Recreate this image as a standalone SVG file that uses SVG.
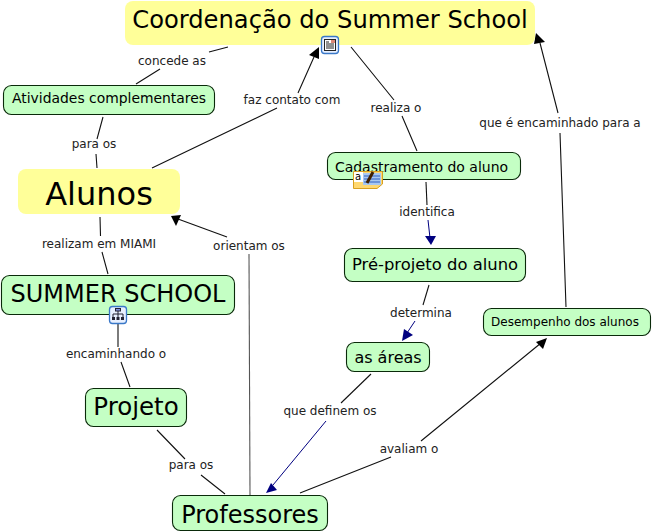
<svg xmlns="http://www.w3.org/2000/svg" width="652" height="532" viewBox="0 0 652 532">
<style>
text{font-family:"DejaVu Sans",Verdana,sans-serif;fill:#000;text-anchor:middle}
.lab{font-size:12px;fill:#222}
.g{fill:#c4ffc4;stroke:#0a2a0a;stroke-width:1.100}
.y{fill:#ffff99;stroke:none}
.l{stroke:#111;stroke-width:1.100;fill:none}
.b{stroke:#000080;stroke-width:1;fill:none}
.ah{fill:#000}
.ab{fill:#000080}
</style>
<rect width="652" height="532" fill="#fff"/>
<g id="connectors">
<path class="l" d="M228 47L209 52M160 69L136 84"/>
<path class="l" d="M152 168L277 108M298 93L314 57"/>
<path class="ah" d="M319 47L319 59L309 55Z"/>
<path class="l" d="M351 47L394 100M402 116L417 151"/>
<path class="l" d="M566 307L560 133M558 113L540 43"/>
<path class="ah" d="M536 33L545 42L534 44Z"/>
<path class="l" d="M103 117L97 139M96 154L97 168"/>
<path class="l" d="M100 217L100.500 236M102 252L108 274"/>
<path class="l" d="M250 495L249 254" style="stroke:#555"/>
<path class="l" d="M227 237L178 219"/>
<path class="ah" d="M171 216L181 215L176 226Z"/>
<path class="l" d="M118 323V347M121 362L130 387"/>
<path class="l" d="M157 430L185 459M201 475L225 494"/>
<path class="l" d="M371 374L341 403"/>
<path class="b" d="M326 421L273 485"/>
<path class="ab" d="M266 493L271 483L277 490Z"/>
<path class="l" d="M300 493L391 457M421 441L541 343"/>
<path class="ah" d="M547 338L543 349L536 342Z"/>
<path class="l" d="M426 182L427 205"/>
<path class="b" d="M428 220L430 238"/>
<path class="ab" d="M431 245L425 236L436 236Z"/>
<path class="l" d="M429 285L423 305"/>
<path class="b" d="M415 321L407 333"/>
<path class="ab" d="M402 341L404 329L413 335Z"/>
</g>
<g class="labels">
<text class="lab" x="172" y="65">concede as</text>
<text class="lab" x="292" y="104">faz contato com</text>
<text class="lab" x="396" y="112">realiza o</text>
<text class="lab" x="560" y="127">que é encaminhado para a</text>
<text class="lab" x="94" y="148">para os</text>
<text class="lab" x="99" y="248">realizam em MIAMI</text>
<text class="lab" x="249" y="250">orientam os</text>
<text class="lab" x="116" y="358">encaminhando o</text>
<text class="lab" x="191" y="469">para os</text>
<text class="lab" x="330" y="415">que definem os</text>
<text class="lab" x="409" y="453">avaliam o</text>
<text class="lab" x="427" y="216">identifica</text>
<text class="lab" x="421" y="317">determina</text>
</g>
<g id="node-coordenacao"><rect class="y" x="125" y="1" width="410" height="44" rx="8"/><text x="330" y="28" font-size="24.200">Coordenação do Summer School</text></g>
<g id="node-atividades"><rect class="g" x="3.500" y="85.500" width="211" height="29" rx="8"/><text x="109" y="103" font-size="13.900">Atividades complementares</text></g>
<g id="node-alunos"><rect class="y" x="18" y="169" width="162" height="45" rx="8"/><text x="99" y="205" font-size="32">Alunos</text></g>
<g id="node-summer"><rect class="g" x="1.500" y="275.500" width="233" height="39" rx="8"/><text x="118" y="302" font-size="24">SUMMER SCHOOL</text></g>
<g id="node-projeto"><rect class="g" x="85.500" y="388.500" width="101" height="38" rx="8"/><text x="136" y="415" font-size="24.500">Projeto</text></g>
<g id="node-professores"><rect class="g" x="172.500" y="495.500" width="155" height="35" rx="8"/><text x="250" y="523" font-size="24">Professores</text></g>
<g id="node-cadastramento"><rect class="g" x="327.500" y="152.500" width="193" height="27" rx="8"/><text x="421.500" y="172" font-size="14">Cadastramento do aluno</text></g>
<g id="node-preprojeto"><rect class="g" x="344.500" y="248.500" width="181" height="33" rx="8"/><text x="435" y="270" font-size="16.400">Pré-projeto do aluno</text></g>
<g id="node-areas"><rect class="g" x="346.500" y="342.500" width="83" height="29" rx="8"/><text x="388" y="363" font-size="16">as áreas</text></g>
<g id="node-desempenho"><rect class="g" x="483.500" y="308.500" width="167" height="27" rx="8"/><text x="565" y="326" font-size="12">Desempenho dos alunos</text></g>
<g id="icons">
<g id="icon-doc"><rect x="321.500" y="36.500" width="17" height="17" rx="3" fill="#e8f0ff" stroke="#3a78c8" stroke-width="1.300"/><rect x="324.500" y="39.500" width="11" height="11" fill="#fff" stroke="#222"/><path d="M326 42h3M326 44h8M326 46h8M326 48h8" stroke="#222" stroke-width="1"/><rect x="331" y="40" width="4" height="3" fill="#d87"/></g>
<g id="icon-note"><path d="M353.500 171.500H382.500V184L377 188.500H353.500Z" fill="#ffd870" stroke="#d8a020"/><rect x="354" y="172" width="9" height="10" fill="#fff"/><path d="M363 173h18v12h-18z" fill="#a8c8f0"/><path d="M364 176h16M364 179h16M364 182h16" stroke="#3060c0"/><path d="M367 183L373 172" stroke="#402000" stroke-width="3"/><text x="358" y="180" font-size="10">a</text></g>
<g id="icon-map"><rect x="109.500" y="306.500" width="17" height="17" rx="3" fill="#e8f0ff" stroke="#3a78c8" stroke-width="1.300"/><path d="M118 309V313M113 319V314H123V319M118 313V319" stroke="#223" fill="none"/><rect x="115.500" y="308.500" width="5" height="2.500" fill="#8090e0" stroke="#223"/><rect x="112" y="317" width="3" height="3" fill="#223"/><rect x="116.500" y="317" width="3" height="3" fill="#223"/><rect x="121" y="317" width="3" height="3" fill="#223"/></g>
</g>
</svg>
